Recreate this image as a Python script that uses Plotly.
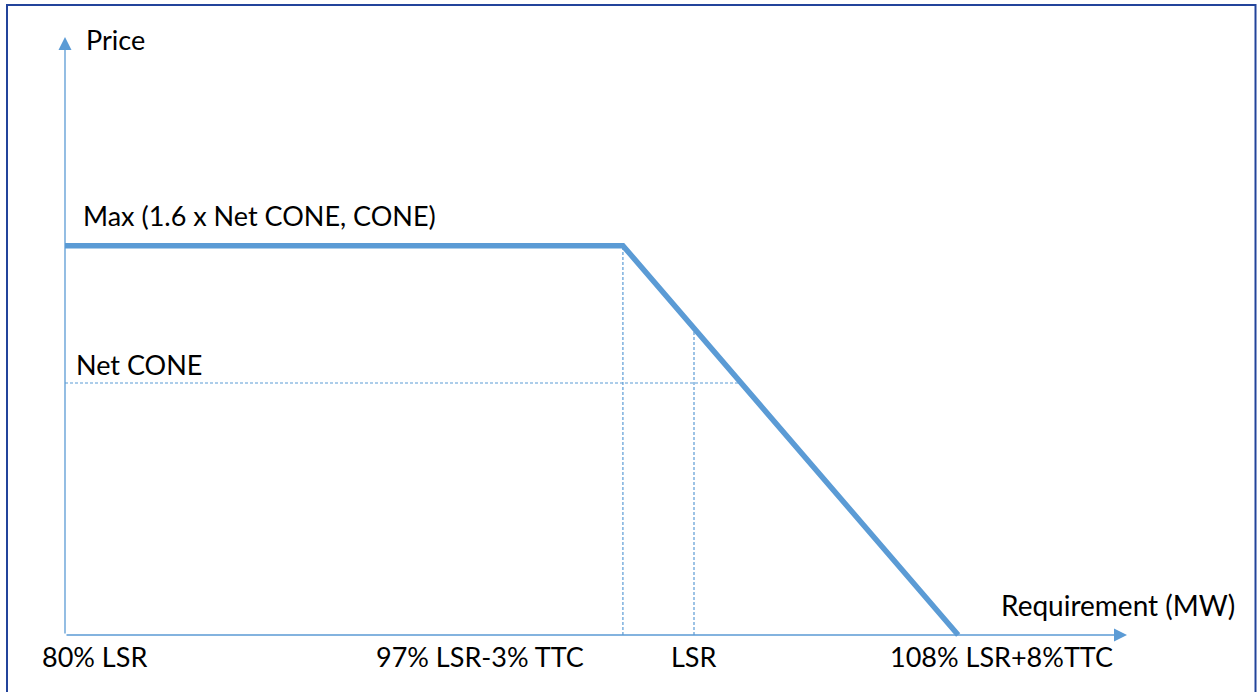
import plotly.graph_objects as go

# ---- data ----
x_labels = ["80% LSR", "97% LSR-3% TTC", "LSR", "108% LSR+8%TTC"]
x_vals = [80.0, 97.74, 100.0, 108.4]          # requirement positions (% of LSR scale)
price_max = 1.545                              # Max(1.6 x Net CONE, CONE) relative to Net CONE
net_cone = 1.0
curve_x = [x_vals[0], x_vals[1], x_vals[3]]
curve_y = [price_max, price_max, 0.0]
text_labels = ["Price", "Max (1.6 x Net CONE, CONE)", "Net CONE", "Requirement (MW)"]

W, H = 1257, 692
BLUE = "#5B9BD5"
FONT = "Lato"

# derived values through the curve
slope = (curve_y[2] - curve_y[1]) / (curve_x[2] - curve_x[1])
x_net = curve_x[1] + (net_cone - curve_y[1]) / slope
y_lsr = curve_y[1] + (x_vals[2] - curve_x[1]) * slope

# axis scaling (layout): pixel = a + b*value
x_origin_px, x_per_unit = 65.0, 31.45
y_origin_px, y_per_unit = 635.0, 252.0
xr = [x_vals[0] - x_origin_px / x_per_unit, x_vals[0] + (W - x_origin_px) / x_per_unit]
yr = [-(H - y_origin_px) / y_per_unit, y_origin_px / y_per_unit]

def px(x):
    return x / W

def py(y):
    return 1 - y / H

fig = go.Figure()

dash_style = dict(color=BLUE, width=1.2, dash="3px,2px")
fig.add_trace(go.Scatter(x=[x_vals[0], x_net], y=[net_cone, net_cone], mode="lines",
                         line=dash_style, hoverinfo="skip"))
fig.add_trace(go.Scatter(x=[x_vals[1], x_vals[1]], y=[0, price_max], mode="lines",
                         line=dash_style, hoverinfo="skip"))
fig.add_trace(go.Scatter(x=[x_vals[2], x_vals[2]], y=[0, y_lsr], mode="lines",
                         line=dash_style, hoverinfo="skip"))
fig.add_trace(go.Scatter(x=curve_x, y=curve_y, mode="lines",
                         line=dict(color=BLUE, width=5.5), hoverinfo="skip"))

# axes arrows
x_axis_end = x_vals[0] + (1127 - x_origin_px) / x_per_unit
y_axis_end = (y_origin_px - 37) / y_per_unit
for (hx, hy) in [(x_axis_end, 0), (x_vals[0], y_axis_end)]:
    fig.add_annotation(x=hx, y=hy, ax=x_vals[0], ay=0, xref="x", yref="y", axref="x", ayref="y",
                       text="", showarrow=True, arrowhead=2, arrowsize=2.0, arrowwidth=1.3,
                       arrowcolor=BLUE, standoff=0, startstandoff=0)

tf = dict(family=FONT, size=27, color="#000000")
# text labels
fig.add_annotation(x=px(84), y=py(40), xref="paper", yref="paper", text=text_labels[0],
                   showarrow=False, xanchor="left", yanchor="middle", font=tf)
fig.add_annotation(x=px(81), y=py(215), xref="paper", yref="paper", text=text_labels[1],
                   showarrow=False, xanchor="left", yanchor="middle", font=tf)
fig.add_annotation(x=px(74), y=py(364), xref="paper", yref="paper", text=text_labels[2],
                   showarrow=False, xanchor="left", yanchor="middle", font=tf)
fig.add_annotation(x=px(1237), y=py(605), xref="paper", yref="paper", text=text_labels[3],
                   showarrow=False, xanchor="right", yanchor="middle",
                   font=dict(family=FONT, size=28, color="#000000"))

label_centers = [94, 480, 694, 1001]
for lab, cx in zip(x_labels, label_centers):
    fig.add_annotation(x=px(cx), y=py(656), xref="paper", yref="paper", text=lab,
                       showarrow=False, xanchor="center", yanchor="middle", font=tf)

# frame
fig.add_shape(type="rect", xref="paper", yref="paper", x0=px(7), x1=px(1255.5),
              y0=-0.02, y1=py(5), line=dict(color="#23449B", width=2))

fig.update_xaxes(range=xr, visible=False, fixedrange=True)
fig.update_yaxes(range=yr, visible=False, fixedrange=True)
fig.update_layout(width=W, height=H, margin=dict(l=0, r=0, t=0, b=0),
                  paper_bgcolor="white", plot_bgcolor="white", showlegend=False)

fig.write_html("out.html", config={"displayModeBar": False},
               post_script="document.body.style.margin='0';document.body.style.overflow='hidden';")
